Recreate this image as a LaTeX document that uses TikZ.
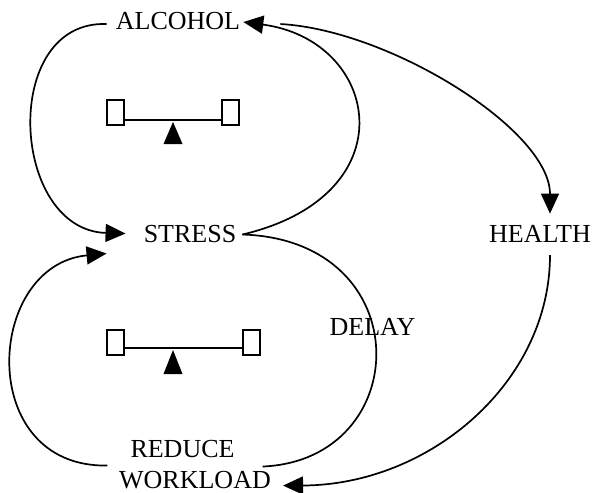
\documentclass[tikz,border=0pt]{standalone}
\usepackage{fontspec}
\setmainfont{Liberation Serif}
\usetikzlibrary{arrows.meta,calc}
\begin{document}
\begin{tikzpicture}[x=1pt,y=-1pt,
  label/.style={inner sep=0pt,anchor=base,font=\fontsize{26}{31}\selectfont},
  link/.style={line width=1.7pt},
  causal/.style={link,-{Triangle[length=20pt,width=18pt]}},
  seesawbox/.style={line width=1.4pt,fill=white},
  beam/.style={line width=1.4pt}]
  \useasboundingbox (0,0) rectangle (595,493);

  % variables
  \node[label] (alcohol)  at (178,29.5) {ALCOHOL};
  \node[label] (stress)   at (190,242)  {STRESS};
  \node[label] (health)   at (540,242)  {HEALTH};
  \node[label] (delay)    at (372.5,335) {DELAY};
  \node[label] (reduce)   at (182.5,457) {REDUCE};
  \node[label] (workload) at (195,488)  {WORKLOAD};

  % upper loop: alcohol and stress
  \draw[causal] ($(stress.east)+(6,1)$) .. controls (410,195) and (380,40) .. ($(alcohol.east)+(3,1)$);
  \draw[causal] ($(alcohol.west)+(-9,3)$) .. controls (0,20) and (10,230) .. ($(stress.west)+(-18,0)$);

  % long-term effect through health
  \draw[causal] ($(alcohol.east)+(40,3)$) .. controls (390,30) and (550,130) .. ($(health.north)+(10,-11)$);
  \draw[causal] ($(health.south)+(10,13)$) .. controls (550,382) and (430,485) .. ($(workload.east)+(12,6)$);

  % lower loop: stress and workload, with delay
  \draw[link] ($(stress.east)+(6,1)$) .. controls (420,240) and (415,460) .. ($(reduce.east)+(28,18)$);
  \draw[causal] ($(reduce.west)+(-23,17)$) .. controls (-25,468) and (-15,265) .. ($(stress.west)+(-37,20)$);

  % balance symbols
  \draw[beam] (124,120) -- (222,120);
  \draw[seesawbox] (107,100) rectangle (124,125);
  \draw[seesawbox] (222,100) rectangle (239,125);
  \fill (173,122) -- (182.5,144) -- (163.5,144) -- cycle;

  \draw[beam] (124,348) -- (243,348);
  \draw[seesawbox] (107,330) rectangle (124,355);
  \draw[seesawbox] (243,330) rectangle (260,355);
  \fill (173,350) -- (182.5,374) -- (163.5,374) -- cycle;
\end{tikzpicture}
\end{document}
